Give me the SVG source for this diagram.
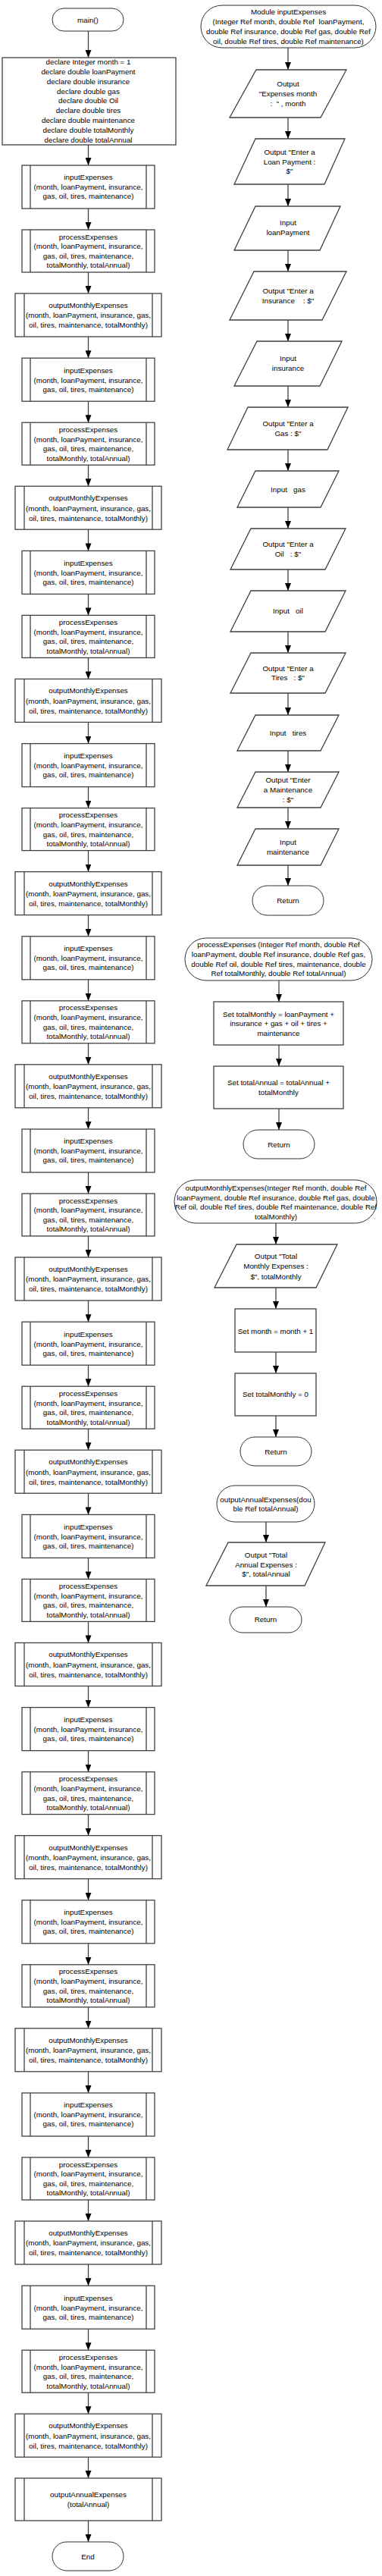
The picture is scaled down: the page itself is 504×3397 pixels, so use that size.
<svg xmlns="http://www.w3.org/2000/svg" width="504" height="3397" viewBox="0 0 504 3397">
<style>
.t{font-family:"Liberation Sans",Arial,sans-serif;font-size:9.8px;fill:#000;text-anchor:middle;white-space:pre}
.b{fill:#fff;stroke:#404040;stroke-width:1.3}
.l{fill:none;stroke:#404040;stroke-width:1.3}
.tm{fill:#fff;stroke:#303030;stroke-width:1}
.c{fill:none;stroke:#404040;stroke-width:1.3;marker-end:url(#ah)}
</style>
<defs>
<marker id="ah" markerWidth="10" markerHeight="8" refX="10" refY="4" orient="auto" markerUnits="userSpaceOnUse"><path d="M0,0 L10,4 L0,8 z" fill="#000"/></marker>
</defs>
<rect width="504" height="3397" fill="#fff"/>
<g id="connectors">
<path class="c" d="M116.5,41V76"/>
<path class="c" d="M116.5,191V218"/>
<path class="c" d="M116.5,275V303"/><path class="c" d="M116.5,359V387"/><path class="c" d="M116.5,444V472.2"/>
<path class="c" d="M116.5,529.2V557.2"/><path class="c" d="M116.5,613.2V641.2"/><path class="c" d="M116.5,698.2V726.4"/>
<path class="c" d="M116.5,783.4V811.4"/><path class="c" d="M116.5,867.4V895.4"/><path class="c" d="M116.5,952.4V980.6"/>
<path class="c" d="M116.5,1037.6V1065.6"/><path class="c" d="M116.5,1121.6V1149.6"/><path class="c" d="M116.5,1206.6V1234.8"/>
<path class="c" d="M116.5,1291.8V1319.8"/><path class="c" d="M116.5,1375.8V1403.8"/><path class="c" d="M116.5,1460.8V1489"/>
<path class="c" d="M116.5,1546V1574"/><path class="c" d="M116.5,1630V1658"/><path class="c" d="M116.5,1715V1743.2"/>
<path class="c" d="M116.5,1800.2V1828.2"/><path class="c" d="M116.5,1884.2V1912.2"/><path class="c" d="M116.5,1969.2V1997.4"/>
<path class="c" d="M116.5,2054.4V2082.4"/><path class="c" d="M116.5,2138.4V2166.4"/><path class="c" d="M116.5,2223.4V2251.6"/>
<path class="c" d="M116.5,2308.6V2336.6"/><path class="c" d="M116.5,2392.6V2420.6"/><path class="c" d="M116.5,2477.6V2505.8"/>
<path class="c" d="M116.5,2562.8V2590.8"/><path class="c" d="M116.5,2646.8V2674.8"/><path class="c" d="M116.5,2731.8V2760"/>
<path class="c" d="M116.5,2817V2845"/><path class="c" d="M116.5,2901V2929"/><path class="c" d="M116.5,2986V3014.2"/>
<path class="c" d="M116.5,3071.2V3099.2"/><path class="c" d="M116.5,3155.2V3183.2"/><path class="c" d="M116.5,3240.2V3268"/>
<path class="c" d="M116.5,3324V3352"/>
<path class="c" d="M380,63V92"/><path class="c" d="M380,155V183"/><path class="c" d="M380,243V272"/><path class="c" d="M380,330V358"/>
<path class="c" d="M380,422V450"/><path class="c" d="M380,509V537"/><path class="c" d="M380,593V621"/><path class="c" d="M380,669V697"/>
<path class="c" d="M380,751V779"/><path class="c" d="M380,833V861"/><path class="c" d="M380,914V943"/><path class="c" d="M380,990V1018"/>
<path class="c" d="M380,1065V1093"/><path class="c" d="M380,1141V1168"/>
<path class="c" d="M368,1293V1321"/><path class="c" d="M368,1378V1406"/><path class="c" d="M368,1462V1490"/>
<path class="c" d="M364,1613V1641"/><path class="c" d="M364,1698V1726"/><path class="c" d="M364,1783V1811"/><path class="c" d="M364,1867V1895"/>
<path class="c" d="M351,2007V2034"/><path class="c" d="M351,2091V2119"/>
</g>
<g id="main"><rect class="tm" x="69" y="11" width="94" height="30" rx="15"/><text class="t" x="116" y="30">main()</text></g>
<g id="declare"><rect class="b" x="3" y="76" width="229" height="115"/>
<text class="t"><tspan x="116.5" y="85.1">declare Integer month = 1</tspan><tspan x="116.5" y="97.9">declare double loanPayment</tspan><tspan x="116.5" y="110.8">declare double insurance</tspan><tspan x="116.5" y="123.6">declare double gas</tspan><tspan x="116.5" y="136.4">declare double Oil</tspan><tspan x="116.5" y="149.3">declare double tires</tspan><tspan x="116.5" y="162.1">declare double maintenance</tspan><tspan x="116.5" y="174.9">declare double totalMonthly</tspan><tspan x="116.5" y="187.7">declare double totalAnnual</tspan></text></g>

<g id="in1" transform="translate(0,218)"><rect class="b" x="29" y="0" width="175" height="57"/><path class="l" d="M40,0V57M193,0V57"/><text class="t"><tspan x="116.5" y="19.4">inputExpenses</tspan><tspan x="116.5" y="32.4">(month, loanPayment, insurance,</tspan><tspan x="116.5" y="44.4">gas, oil, tires, maintenance)</tspan></text></g>
<g id="pr1" transform="translate(0,303)"><rect class="b" x="29" y="0" width="175" height="56"/><path class="l" d="M40,0V56M193,0V56"/><text class="t"><tspan x="116.5" y="12.7">processExpenses</tspan><tspan x="116.5" y="25.4">(month, loanPayment, insurance,</tspan><tspan x="116.5" y="38.1">gas, oil, tires, maintenance,</tspan><tspan x="116.5" y="50.4">totalMonthly, totalAnnual)</tspan></text></g>
<g id="out1" transform="translate(0,387)"><rect class="b" x="20" y="0" width="193" height="57"/><path class="l" d="M32,0V57M201,0V57"/><text class="t"><tspan x="116.5" y="19.1">outputMonthlyExpenses</tspan><tspan x="116.5" y="32.4">(month, loanPayment, insurance, gas,</tspan><tspan x="116.5" y="45.4">oil, tires, maintenance, totalMonthly)</tspan></text></g>

<g id="in2" transform="translate(0,472.2)"><rect class="b" x="29" y="0" width="175" height="57"/><path class="l" d="M40,0V57M193,0V57"/><text class="t"><tspan x="116.5" y="19.4">inputExpenses</tspan><tspan x="116.5" y="32.4">(month, loanPayment, insurance,</tspan><tspan x="116.5" y="44.4">gas, oil, tires, maintenance)</tspan></text></g>
<g id="pr2" transform="translate(0,557.2)"><rect class="b" x="29" y="0" width="175" height="56"/><path class="l" d="M40,0V56M193,0V56"/><text class="t"><tspan x="116.5" y="12.7">processExpenses</tspan><tspan x="116.5" y="25.4">(month, loanPayment, insurance,</tspan><tspan x="116.5" y="38.1">gas, oil, tires, maintenance,</tspan><tspan x="116.5" y="50.4">totalMonthly, totalAnnual)</tspan></text></g>
<g id="out2" transform="translate(0,641.2)"><rect class="b" x="20" y="0" width="193" height="57"/><path class="l" d="M32,0V57M201,0V57"/><text class="t"><tspan x="116.5" y="19.1">outputMonthlyExpenses</tspan><tspan x="116.5" y="32.4">(month, loanPayment, insurance, gas,</tspan><tspan x="116.5" y="45.4">oil, tires, maintenance, totalMonthly)</tspan></text></g>

<g id="in3" transform="translate(0,726.4)"><rect class="b" x="29" y="0" width="175" height="57"/><path class="l" d="M40,0V57M193,0V57"/><text class="t"><tspan x="116.5" y="19.4">inputExpenses</tspan><tspan x="116.5" y="32.4">(month, loanPayment, insurance,</tspan><tspan x="116.5" y="44.4">gas, oil, tires, maintenance)</tspan></text></g>
<g id="pr3" transform="translate(0,811.4)"><rect class="b" x="29" y="0" width="175" height="56"/><path class="l" d="M40,0V56M193,0V56"/><text class="t"><tspan x="116.5" y="12.7">processExpenses</tspan><tspan x="116.5" y="25.4">(month, loanPayment, insurance,</tspan><tspan x="116.5" y="38.1">gas, oil, tires, maintenance,</tspan><tspan x="116.5" y="50.4">totalMonthly, totalAnnual)</tspan></text></g>
<g id="out3" transform="translate(0,895.4)"><rect class="b" x="20" y="0" width="193" height="57"/><path class="l" d="M32,0V57M201,0V57"/><text class="t"><tspan x="116.5" y="19.1">outputMonthlyExpenses</tspan><tspan x="116.5" y="32.4">(month, loanPayment, insurance, gas,</tspan><tspan x="116.5" y="45.4">oil, tires, maintenance, totalMonthly)</tspan></text></g>

<g id="in4" transform="translate(0,980.6)"><rect class="b" x="29" y="0" width="175" height="57"/><path class="l" d="M40,0V57M193,0V57"/><text class="t"><tspan x="116.5" y="19.4">inputExpenses</tspan><tspan x="116.5" y="32.4">(month, loanPayment, insurance,</tspan><tspan x="116.5" y="44.4">gas, oil, tires, maintenance)</tspan></text></g>
<g id="pr4" transform="translate(0,1065.6)"><rect class="b" x="29" y="0" width="175" height="56"/><path class="l" d="M40,0V56M193,0V56"/><text class="t"><tspan x="116.5" y="12.7">processExpenses</tspan><tspan x="116.5" y="25.4">(month, loanPayment, insurance,</tspan><tspan x="116.5" y="38.1">gas, oil, tires, maintenance,</tspan><tspan x="116.5" y="50.4">totalMonthly, totalAnnual)</tspan></text></g>
<g id="out4" transform="translate(0,1149.6)"><rect class="b" x="20" y="0" width="193" height="57"/><path class="l" d="M32,0V57M201,0V57"/><text class="t"><tspan x="116.5" y="19.1">outputMonthlyExpenses</tspan><tspan x="116.5" y="32.4">(month, loanPayment, insurance, gas,</tspan><tspan x="116.5" y="45.4">oil, tires, maintenance, totalMonthly)</tspan></text></g>

<g id="in5" transform="translate(0,1234.8)"><rect class="b" x="29" y="0" width="175" height="57"/><path class="l" d="M40,0V57M193,0V57"/><text class="t"><tspan x="116.5" y="19.4">inputExpenses</tspan><tspan x="116.5" y="32.4">(month, loanPayment, insurance,</tspan><tspan x="116.5" y="44.4">gas, oil, tires, maintenance)</tspan></text></g>
<g id="pr5" transform="translate(0,1319.8)"><rect class="b" x="29" y="0" width="175" height="56"/><path class="l" d="M40,0V56M193,0V56"/><text class="t"><tspan x="116.5" y="12.7">processExpenses</tspan><tspan x="116.5" y="25.4">(month, loanPayment, insurance,</tspan><tspan x="116.5" y="38.1">gas, oil, tires, maintenance,</tspan><tspan x="116.5" y="50.4">totalMonthly, totalAnnual)</tspan></text></g>
<g id="out5" transform="translate(0,1403.8)"><rect class="b" x="20" y="0" width="193" height="57"/><path class="l" d="M32,0V57M201,0V57"/><text class="t"><tspan x="116.5" y="19.1">outputMonthlyExpenses</tspan><tspan x="116.5" y="32.4">(month, loanPayment, insurance, gas,</tspan><tspan x="116.5" y="45.4">oil, tires, maintenance, totalMonthly)</tspan></text></g>

<g id="in6" transform="translate(0,1489)"><rect class="b" x="29" y="0" width="175" height="57"/><path class="l" d="M40,0V57M193,0V57"/><text class="t"><tspan x="116.5" y="19.4">inputExpenses</tspan><tspan x="116.5" y="32.4">(month, loanPayment, insurance,</tspan><tspan x="116.5" y="44.4">gas, oil, tires, maintenance)</tspan></text></g>
<g id="pr6" transform="translate(0,1574)"><rect class="b" x="29" y="0" width="175" height="56"/><path class="l" d="M40,0V56M193,0V56"/><text class="t"><tspan x="116.5" y="12.7">processExpenses</tspan><tspan x="116.5" y="25.4">(month, loanPayment, insurance,</tspan><tspan x="116.5" y="38.1">gas, oil, tires, maintenance,</tspan><tspan x="116.5" y="50.4">totalMonthly, totalAnnual)</tspan></text></g>
<g id="out6" transform="translate(0,1658)"><rect class="b" x="20" y="0" width="193" height="57"/><path class="l" d="M32,0V57M201,0V57"/><text class="t"><tspan x="116.5" y="19.1">outputMonthlyExpenses</tspan><tspan x="116.5" y="32.4">(month, loanPayment, insurance, gas,</tspan><tspan x="116.5" y="45.4">oil, tires, maintenance, totalMonthly)</tspan></text></g>

<g id="in7" transform="translate(0,1743.2)"><rect class="b" x="29" y="0" width="175" height="57"/><path class="l" d="M40,0V57M193,0V57"/><text class="t"><tspan x="116.5" y="19.4">inputExpenses</tspan><tspan x="116.5" y="32.4">(month, loanPayment, insurance,</tspan><tspan x="116.5" y="44.4">gas, oil, tires, maintenance)</tspan></text></g>
<g id="pr7" transform="translate(0,1828.2)"><rect class="b" x="29" y="0" width="175" height="56"/><path class="l" d="M40,0V56M193,0V56"/><text class="t"><tspan x="116.5" y="12.7">processExpenses</tspan><tspan x="116.5" y="25.4">(month, loanPayment, insurance,</tspan><tspan x="116.5" y="38.1">gas, oil, tires, maintenance,</tspan><tspan x="116.5" y="50.4">totalMonthly, totalAnnual)</tspan></text></g>
<g id="out7" transform="translate(0,1912.2)"><rect class="b" x="20" y="0" width="193" height="57"/><path class="l" d="M32,0V57M201,0V57"/><text class="t"><tspan x="116.5" y="19.1">outputMonthlyExpenses</tspan><tspan x="116.5" y="32.4">(month, loanPayment, insurance, gas,</tspan><tspan x="116.5" y="45.4">oil, tires, maintenance, totalMonthly)</tspan></text></g>

<g id="in8" transform="translate(0,1997.4)"><rect class="b" x="29" y="0" width="175" height="57"/><path class="l" d="M40,0V57M193,0V57"/><text class="t"><tspan x="116.5" y="19.4">inputExpenses</tspan><tspan x="116.5" y="32.4">(month, loanPayment, insurance,</tspan><tspan x="116.5" y="44.4">gas, oil, tires, maintenance)</tspan></text></g>
<g id="pr8" transform="translate(0,2082.4)"><rect class="b" x="29" y="0" width="175" height="56"/><path class="l" d="M40,0V56M193,0V56"/><text class="t"><tspan x="116.5" y="12.7">processExpenses</tspan><tspan x="116.5" y="25.4">(month, loanPayment, insurance,</tspan><tspan x="116.5" y="38.1">gas, oil, tires, maintenance,</tspan><tspan x="116.5" y="50.4">totalMonthly, totalAnnual)</tspan></text></g>
<g id="out8" transform="translate(0,2166.4)"><rect class="b" x="20" y="0" width="193" height="57"/><path class="l" d="M32,0V57M201,0V57"/><text class="t"><tspan x="116.5" y="19.1">outputMonthlyExpenses</tspan><tspan x="116.5" y="32.4">(month, loanPayment, insurance, gas,</tspan><tspan x="116.5" y="45.4">oil, tires, maintenance, totalMonthly)</tspan></text></g>

<g id="in9" transform="translate(0,2251.6)"><rect class="b" x="29" y="0" width="175" height="57"/><path class="l" d="M40,0V57M193,0V57"/><text class="t"><tspan x="116.5" y="19.4">inputExpenses</tspan><tspan x="116.5" y="32.4">(month, loanPayment, insurance,</tspan><tspan x="116.5" y="44.4">gas, oil, tires, maintenance)</tspan></text></g>
<g id="pr9" transform="translate(0,2336.6)"><rect class="b" x="29" y="0" width="175" height="56"/><path class="l" d="M40,0V56M193,0V56"/><text class="t"><tspan x="116.5" y="12.7">processExpenses</tspan><tspan x="116.5" y="25.4">(month, loanPayment, insurance,</tspan><tspan x="116.5" y="38.1">gas, oil, tires, maintenance,</tspan><tspan x="116.5" y="50.4">totalMonthly, totalAnnual)</tspan></text></g>
<g id="out9" transform="translate(0,2420.6)"><rect class="b" x="20" y="0" width="193" height="57"/><path class="l" d="M32,0V57M201,0V57"/><text class="t"><tspan x="116.5" y="19.1">outputMonthlyExpenses</tspan><tspan x="116.5" y="32.4">(month, loanPayment, insurance, gas,</tspan><tspan x="116.5" y="45.4">oil, tires, maintenance, totalMonthly)</tspan></text></g>

<g id="in10" transform="translate(0,2505.8)"><rect class="b" x="29" y="0" width="175" height="57"/><path class="l" d="M40,0V57M193,0V57"/><text class="t"><tspan x="116.5" y="19.4">inputExpenses</tspan><tspan x="116.5" y="32.4">(month, loanPayment, insurance,</tspan><tspan x="116.5" y="44.4">gas, oil, tires, maintenance)</tspan></text></g>
<g id="pr10" transform="translate(0,2590.8)"><rect class="b" x="29" y="0" width="175" height="56"/><path class="l" d="M40,0V56M193,0V56"/><text class="t"><tspan x="116.5" y="12.7">processExpenses</tspan><tspan x="116.5" y="25.4">(month, loanPayment, insurance,</tspan><tspan x="116.5" y="38.1">gas, oil, tires, maintenance,</tspan><tspan x="116.5" y="50.4">totalMonthly, totalAnnual)</tspan></text></g>
<g id="out10" transform="translate(0,2674.8)"><rect class="b" x="20" y="0" width="193" height="57"/><path class="l" d="M32,0V57M201,0V57"/><text class="t"><tspan x="116.5" y="19.1">outputMonthlyExpenses</tspan><tspan x="116.5" y="32.4">(month, loanPayment, insurance, gas,</tspan><tspan x="116.5" y="45.4">oil, tires, maintenance, totalMonthly)</tspan></text></g>

<g id="in11" transform="translate(0,2760)"><rect class="b" x="29" y="0" width="175" height="57"/><path class="l" d="M40,0V57M193,0V57"/><text class="t"><tspan x="116.5" y="19.4">inputExpenses</tspan><tspan x="116.5" y="32.4">(month, loanPayment, insurance,</tspan><tspan x="116.5" y="44.4">gas, oil, tires, maintenance)</tspan></text></g>
<g id="pr11" transform="translate(0,2845)"><rect class="b" x="29" y="0" width="175" height="56"/><path class="l" d="M40,0V56M193,0V56"/><text class="t"><tspan x="116.5" y="12.7">processExpenses</tspan><tspan x="116.5" y="25.4">(month, loanPayment, insurance,</tspan><tspan x="116.5" y="38.1">gas, oil, tires, maintenance,</tspan><tspan x="116.5" y="50.4">totalMonthly, totalAnnual)</tspan></text></g>
<g id="out11" transform="translate(0,2929)"><rect class="b" x="20" y="0" width="193" height="57"/><path class="l" d="M32,0V57M201,0V57"/><text class="t"><tspan x="116.5" y="19.1">outputMonthlyExpenses</tspan><tspan x="116.5" y="32.4">(month, loanPayment, insurance, gas,</tspan><tspan x="116.5" y="45.4">oil, tires, maintenance, totalMonthly)</tspan></text></g>

<g id="in12" transform="translate(0,3014.2)"><rect class="b" x="29" y="0" width="175" height="57"/><path class="l" d="M40,0V57M193,0V57"/><text class="t"><tspan x="116.5" y="19.4">inputExpenses</tspan><tspan x="116.5" y="32.4">(month, loanPayment, insurance,</tspan><tspan x="116.5" y="44.4">gas, oil, tires, maintenance)</tspan></text></g>
<g id="pr12" transform="translate(0,3099.2)"><rect class="b" x="29" y="0" width="175" height="56"/><path class="l" d="M40,0V56M193,0V56"/><text class="t"><tspan x="116.5" y="12.7">processExpenses</tspan><tspan x="116.5" y="25.4">(month, loanPayment, insurance,</tspan><tspan x="116.5" y="38.1">gas, oil, tires, maintenance,</tspan><tspan x="116.5" y="50.4">totalMonthly, totalAnnual)</tspan></text></g>
<g id="out12" transform="translate(0,3183.2)"><rect class="b" x="20" y="0" width="193" height="57"/><path class="l" d="M32,0V57M201,0V57"/><text class="t"><tspan x="116.5" y="19.1">outputMonthlyExpenses</tspan><tspan x="116.5" y="32.4">(month, loanPayment, insurance, gas,</tspan><tspan x="116.5" y="45.4">oil, tires, maintenance, totalMonthly)</tspan></text></g>

<g id="annualCall"><rect class="b" x="20" y="3268" width="193" height="56"/><path class="l" d="M32,3268V3324M201,3268V3324"/><text class="t"><tspan x="116.5" y="3293.4">outputAnnualExpenses</tspan><tspan x="116.5" y="3306.1">(totalAnnual)</tspan></text></g>
<g id="end"><rect class="tm" x="69" y="3352" width="94" height="38" rx="19"/><text class="t" x="116" y="3375">End</text></g>

<g id="modInput"><rect class="tm" x="265" y="7" width="231" height="56" rx="28"/><text class="t"><tspan x="380.5" y="19.1">Module inputExpenses</tspan><tspan x="380.5" y="31.9">(Integer Ref month, double Ref  loanPayment,</tspan><tspan x="380.5" y="44.7">double Ref insurance, double Ref gas, double Ref</tspan><tspan x="380.5" y="57.5">oil, double Ref tires, double Ref maintenance)</tspan></text></g>
<g id="p1"><polygon class="b" points="338,92 457,92 423,155 303,155"/><text class="t"><tspan x="380" y="114.1">Output</tspan><tspan x="380" y="127.4">"Expenses month</tspan><tspan x="380" y="140.1">:  " , month</tspan></text></g>
<g id="p2"><polygon class="b" points="337,183 455,183 428,243 309,243"/><text class="t"><tspan x="382" y="204.4">Output "Enter a</tspan><tspan x="382" y="216.6">Loan Payment :</tspan><tspan x="382" y="228.6">$"</tspan></text></g>
<g id="p3"><polygon class="b" points="337,272 449,272 422,330 309,330"/><text class="t"><tspan x="380" y="297.4">Input</tspan><tspan x="380" y="310.1">loanPayment</tspan></text></g>
<g id="p4"><polygon class="b" points="335,358 457,358 425,422 303,422"/><text class="t"><tspan x="380" y="387.4">Output "Enter a</tspan><tspan x="380" y="400.1">Insurance    : $"</tspan></text></g>
<g id="p5"><polygon class="b" points="339,450 451,450 422,509 309,509"/><text class="t"><tspan x="380" y="476.1">Input</tspan><tspan x="380" y="489.1">insurance</tspan></text></g>
<g id="p6"><polygon class="b" points="327,537 459,537 432,593 300,593"/><text class="t"><tspan x="380" y="561.7">Output "Enter a</tspan><tspan x="380" y="575.1">Gas : $"</tspan></text></g>
<g id="p7"><polygon class="b" points="337,621 447,621 423,669 313,669"/><text class="t" x="380" y="649.1">Input   gas</text></g>
<g id="p8"><polygon class="b" points="331,697 456,697 429,751 304,751"/><text class="t"><tspan x="380" y="721.1">Output "Enter a</tspan><tspan x="380" y="734.1">Oil   : $"</tspan></text></g>
<g id="p9"><polygon class="b" points="331,779 456,779 429,833 304,833"/><text class="t" x="380" y="809.1">Input   oil</text></g>
<g id="p10"><polygon class="b" points="331,861 456,861 429,914 304,914"/><text class="t"><tspan x="380" y="885.1">Output "Enter a</tspan><tspan x="380" y="896.7">Tires   : $"</tspan></text></g>
<g id="p11"><polygon class="b" points="337,943 447,943 423,990 313,990"/><text class="t" x="380" y="970.1">Input   tires</text></g>
<g id="p12"><polygon class="b" points="337,1018 447,1018 423,1065 313,1065"/><text class="t"><tspan x="380" y="1032.4">Output "Enter</tspan><tspan x="380" y="1045.1">a Maintenance</tspan><tspan x="380" y="1058.4">: $"</tspan></text></g>
<g id="p13"><polygon class="b" points="337,1093 447,1093 423,1141 313,1141"/><text class="t"><tspan x="380" y="1114.4">Input</tspan><tspan x="380" y="1127.4">maintenance</tspan></text></g>
<g id="ret1"><rect class="tm" x="333" y="1168" width="94" height="39" rx="19.5"/><text class="t" x="380" y="1191.1">Return</text></g>

<g id="modProcess"><rect class="tm" x="244" y="1237" width="247" height="56" rx="28"/><text class="t"><tspan x="367.5" y="1249.4">processExpenses (Integer Ref month, double Ref</tspan><tspan x="367.5" y="1262.4">loanPayment, double Ref insurance, double Ref gas,</tspan><tspan x="367.5" y="1274.7">double Ref oil, double Ref tires, maintenance, double</tspan><tspan x="367.5" y="1286.7">Ref totalMonthly, double Ref totalAnnual)</tspan></text></g>
<g id="setMonthly"><rect class="b" x="282" y="1321" width="171" height="57"/><text class="t"><tspan x="367.5" y="1340.7">Set totalMonthly = loanPayment +</tspan><tspan x="367.5" y="1353.4">insurance + gas + oil + tires +</tspan><tspan x="367.5" y="1366.1">maintenance</tspan></text></g>
<g id="setAnnual"><rect class="b" x="282" y="1406" width="171" height="56"/><text class="t"><tspan x="367.5" y="1431.1">Set totalAnnual = totalAnnual +</tspan><tspan x="367.5" y="1444.1">totalMonthly</tspan></text></g>
<g id="ret2"><rect class="tm" x="321" y="1490" width="94" height="38" rx="19"/><text class="t" x="368" y="1513.4">Return</text></g>

<g id="modMonthly"><rect class="tm" x="230" y="1556" width="267" height="57" rx="28.5"/><text class="t"><tspan x="364" y="1570.1">outputMonthlyExpenses(Integer Ref month, double Ref</tspan><tspan x="364" y="1583.4">loanPayment, double Ref insurance, double Ref gas, double</tspan><tspan x="364" y="1595.1">Ref oil, double Ref tires, double Ref maintenance, double Ref</tspan><tspan x="364" y="1608.4">totalMonthly)</tspan></text></g>
<g id="pMonthly"><polygon class="b" points="312,1641 445,1641 417,1698 283,1698"/><text class="t"><tspan x="364" y="1660.1">Output "Total</tspan><tspan x="364" y="1673.4">Monthly Expenses :</tspan><tspan x="364" y="1686.7">$", totalMonthly</tspan></text></g>
<g id="setMonth"><rect class="b" x="310" y="1726" width="107" height="57"/><text class="t" x="363.5" y="1759.1">Set month = month + 1</text></g>
<g id="setZero"><rect class="b" x="310" y="1811" width="107" height="56"/><text class="t" x="363.5" y="1842.4">Set totalMonthly = 0</text></g>
<g id="ret3"><rect class="tm" x="317" y="1895" width="94" height="38" rx="19"/><text class="t" x="364" y="1917.7">Return</text></g>

<g id="modAnnual"><rect class="tm" x="286" y="1959" width="129" height="48" rx="24"/><text class="t"><tspan x="350.5" y="1980.7">outputAnnualExpenses(dou</tspan><tspan x="350.5" y="1993.4">ble Ref totalAnnual)</tspan></text></g>
<g id="pAnnual"><polygon class="b" points="301,2034 429,2034 402,2091 272,2091"/><text class="t"><tspan x="351" y="2054.1">Output "Total</tspan><tspan x="351" y="2066.7">Annual Expenses :</tspan><tspan x="351" y="2079.1">$", totalAnnual</tspan></text></g>
<g id="ret4"><rect class="tm" x="303" y="2119" width="95" height="34" rx="17"/><text class="t" x="350.5" y="2139.4">Return</text></g>
</svg>
